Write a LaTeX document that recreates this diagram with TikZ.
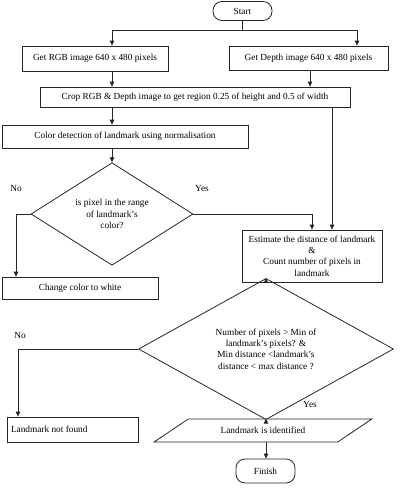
\documentclass[tikz,border=0pt]{standalone}
\usepackage{fontspec}
\setmainfont{Liberation Serif}
\usetikzlibrary{arrows.meta,shapes.geometric}
\tikzset{
  box/.style={draw=black!85, line width=0.8pt, inner sep=2pt, align=center, font=\fontsize{9.3}{11.3}\selectfont},
  term/.style={box, rounded corners=9pt},
  dec/.style={draw=black!85, line width=0.8pt, diamond, inner sep=0pt, align=center, font=\fontsize{9.3}{11.3}\selectfont},
  arr/.style={line width=0.8pt, draw=black!85, -{Triangle[length=5pt,width=4.5pt]}},
  ln/.style={line width=0.8pt, draw=black!85},
  lbl/.style={font=\fontsize{9.3}{11.3}\selectfont}
}
\begin{document}
\begin{tikzpicture}[x=1pt,y=-1pt]
\useasboundingbox (0,0) rectangle (400,488);
\node[term, minimum width=59pt, minimum height=19pt] (start) at (242.5,11) {Start};
\node[box, minimum width=146pt, minimum height=25pt] (rgb) at (95,58.5) {Get RGB image 640 x 480 pixels};
\node[box, minimum width=159pt, minimum height=24pt] (depth) at (308.5,58) {Get Depth image 640 x 480 pixels};
\node[box, minimum width=310pt, minimum height=20pt] (crop) at (195,97) {Crop RGB \& Depth image to get region 0.25 of height and 0.5 of width};
\node[box, minimum width=246pt, minimum height=23pt] (color) at (125,136.5) {Color detection of landmark using normalisation};
\node[dec, minimum width=162pt, minimum height=98pt] (d1) at (112,214) {is pixel in the range\\of landmark's\\color?};
\node[box, minimum width=156pt, minimum height=22pt] (change) at (80,288) {Change color to white};
\node[box, minimum width=140pt, minimum height=52pt] (est) at (312,256) {Estimate the distance of landmark\\\&\\Count number of pixels in\\landmark};
\node[dec, minimum width=255pt, minimum height=98pt] (d2) at (266,349) {Number of pixels > Min of\\landmark's pixels? \&\\Min distance <landmark's\\distance < max distance ?};
\node[box, minimum width=131pt, minimum height=25pt, text width=123pt, align=flush left] (notfound) at (72.5,429.5) {Landmark not found};
\node[box, trapezium, trapezium left angle=27.6, trapezium right angle=152.4, trapezium stretches=true, minimum width=218pt, minimum height=23pt] (para) at (263,430.5) {Landmark is identified};
\node[term, minimum width=59pt, minimum height=24pt] (finish) at (265.5,471) {Finish};

\coordinate (split) at (start.south |- 0,30);
\draw[ln] (start.south) -- (split);
\draw[arr] (split) -| (rgb.north -| d1.north);
\draw[arr] (split) -| ([xshift=48.5pt]depth.north);
\draw[arr] (rgb.south -| d1.north) -- (crop.north -| d1.north);
\draw[arr] ([xshift=1.5pt]depth.south) -- ([xshift=1.5pt]depth.south |- crop.north);
\draw[arr] (crop.south -| d1.north) -- (color.north -| d1.north);
\draw[arr] ([xshift=20pt]est.north |- crop.south) -- ([xshift=20pt]est.north);
\draw[arr] (color.south -| d1.north) -- (d1.north);
\draw[arr] (d1.east) -| (est.north);
\draw[arr] (d1.west) -| ([xshift=-64pt]change.north);
\draw[arr] (est.south -| d2.north) -- (d2.north);
\draw[arr] (d2.west) -| ([xshift=-54.5pt]notfound.north);
\draw[arr] (d2.south) -- (d2.south |- para.north);
\draw[arr] (para.south -| d2.south) -- (finish.north -| d2.south);

\node[lbl] (no1) at (16,188) {No};
\node[lbl] (yes1) at (202,188) {Yes};
\node[lbl] (no2) at (20,335) {No};
\node[lbl] (yes2) at (310,404) {Yes};
\end{tikzpicture}
\end{document}
